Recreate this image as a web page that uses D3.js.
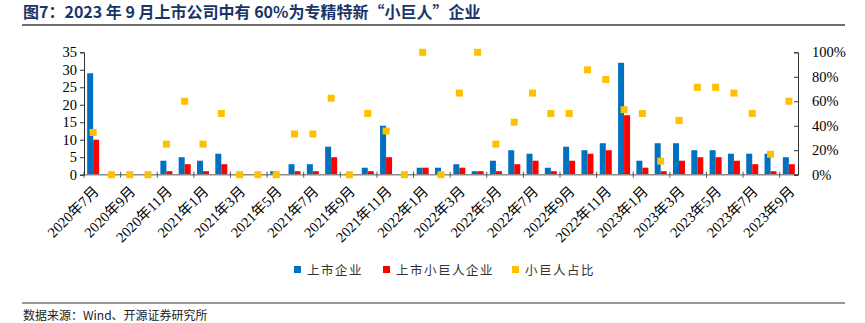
<!DOCTYPE html>
<html><head><meta charset="utf-8">
<script src="https://cdn.jsdelivr.net/npm/d3@7"></script>
<style>body{margin:0;background:#fff}svg{display:block}</style>
</head><body>
<svg id="c" width="865" height="323"></svg>
<script>
const months = [];
for (let y = 2020, m = 7; !(y === 2023 && m === 10); ) {
  months.push(y + "年" + m + "月");
  m++; if (m > 12) { m = 1; y++; }
}
const listed =      [29,0,0,0,4,5,4,6,0,0,1,3,3,8,0,2,14,0,2,2,3,1,4,7,6,2,8,7,9,32,4,9,9,7,7,6,6,6,5];
const giantListed = [10,0,0,0,1,3,1,3,0,0,0,1,1,5,0,1,5,0,2,0,2,1,1,3,4,1,4,6,7,17,2,1,4,5,5,4,3,1,3];
const giantShare =  [34.5,0,0,0,25,60,25,50,0,0,0,33.3,33.3,62.5,0,50,35.7,0,100,0,66.7,100,25,42.9,66.7,50,50,85.7,77.8,53.1,50,11.1,44.4,71.4,71.4,66.7,50,16.7,60];
const leftTicks = [0,5,10,15,20,25,30,35];
const rightTicks = [0,20,40,60,80,100];
const seriesNames = ["上市企业","上市小巨人企业","小巨人占比"];
const colors = ["#0070C0","#FF0000","#FFC000"];

const svg = d3.select("#c");
const L = 84, R = 798, T = 52.3, B = 174.7;
const serif = "'Liberation Serif','Times New Roman','Noto Sans CJK SC',serif";

const x = d3.scaleBand().domain(months).range([L, R]).padding(0);
const y = d3.scaleLinear().domain([0, 35]).range([B, T]);
const y2 = d3.scaleLinear().domain([0, 100]).range([B, T]);

// title
svg.append("text").attr("x", 23).attr("y", 18)
  .attr("font-family", "'Noto Sans CJK SC',sans-serif").attr("font-weight", "bold")
  .attr("font-size", 16).attr("fill", "#1b3468")
  .text("图7：2023 年 9 月上市公司中有 60%为专精特新“小巨人”企业");
svg.append("line").attr("x1", 22).attr("x2", 845).attr("y1", 25).attr("y2", 25)
  .attr("stroke", "#6e6e6e").attr("stroke-width", 2);

// bars
const bw = 6;
svg.append("g").selectAll("rect").data(listed).join("rect")
  .attr("x", (d, i) => x(months[i]) + x.bandwidth() / 2 - bw)
  .attr("y", d => y(d)).attr("width", bw).attr("height", d => B - y(d))
  .attr("fill", colors[0]);
svg.append("g").selectAll("rect").data(giantListed).join("rect")
  .attr("x", (d, i) => x(months[i]) + x.bandwidth() / 2)
  .attr("y", d => y(d)).attr("width", bw).attr("height", d => B - y(d))
  .attr("fill", colors[1]);

// x axis line
svg.append("line").attr("x1", L).attr("x2", R).attr("y1", B).attr("y2", B)
  .attr("stroke", "#8c8c8c").attr("stroke-width", 1.5);
// x ticks every 2 categories at boundaries
const tickIdx = d3.range(0, months.length + 1, 2);
svg.append("g").selectAll("line").data(tickIdx).join("line")
  .attr("x1", i => i < months.length ? x(months[i]) : R)
  .attr("x2", i => i < months.length ? x(months[i]) : R)
  .attr("y1", B - 3).attr("y2", B + 3).attr("stroke", "#555").attr("stroke-width", 1);

// share markers
svg.append("g").selectAll("rect").data(giantShare).join("rect")
  .attr("x", (d, i) => x(months[i]) + x.bandwidth() / 2 - 3.5)
  .attr("y", d => y2(d) - 3.5).attr("width", 7).attr("height", 7)
  .attr("fill", colors[2]);

// left axis
const ga = svg.append("g").attr("transform", `translate(${L},0)`)
  .call(d3.axisLeft(y).tickValues(leftTicks).tickSize(4).tickPadding(3));
ga.select(".domain").attr("stroke", "#333");
ga.selectAll(".tick line").attr("stroke", "#333");
ga.selectAll("text").attr("font-family", serif).attr("font-size", 14.5).attr("fill", "#000");

// right axis
const gr = svg.append("g").attr("transform", `translate(${R},0)`)
  .call(d3.axisRight(y2).tickValues(rightTicks).tickFormat(d => d + "%").tickSize(-4).tickPadding(14));
gr.select(".domain").attr("stroke", "#333");
gr.selectAll(".tick line").attr("stroke", "#333");
gr.selectAll("text").attr("font-family", serif).attr("font-size", 14.5).attr("fill", "#000");

// x labels
const labIdx = d3.range(0, months.length, 2);
svg.append("g").selectAll("text").data(labIdx).join("text")
  .attr("transform", i => `translate(${x(months[i]) + x.bandwidth() / 2 + 3},${B + 14}) rotate(-45)`)
  .attr("text-anchor", "end").attr("dy", "0.35em")
  .attr("font-family", serif).attr("font-size", 14.5).attr("fill", "#000")
  .text(i => months[i]);

// legend
const lg = [{x: 294, t: seriesNames[0]}, {x: 383, t: seriesNames[1]}, {x: 512, t: seriesNames[2]}];
lg.forEach((d, i) => {
  svg.append("rect").attr("x", d.x).attr("y", 266).attr("width", 7).attr("height", 7).attr("fill", colors[i]);
  svg.append("text").attr("x", d.x + 13).attr("y", 274.5)
    .attr("font-family", "'Noto Sans CJK SC',sans-serif").attr("font-size", 12.5)
    .attr("letter-spacing", 1.5).attr("fill", "#333").text(d.t);
});

// footer
svg.append("line").attr("x1", 22).attr("x2", 845).attr("y1", 303).attr("y2", 303)
  .attr("stroke", "#333").attr("stroke-width", 1);
svg.append("text").attr("x", 23).attr("y", 320)
  .attr("font-family", "'Noto Sans CJK SC',sans-serif").attr("font-size", 12).attr("fill", "#222")
  .text("数据来源：Wind、开源证券研究所");
</script>
</body></html>
